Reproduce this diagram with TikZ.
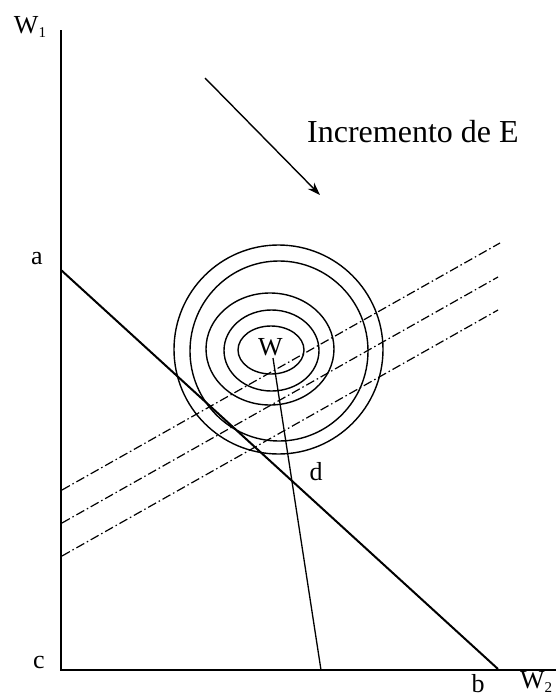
\documentclass[tikz,border=0pt]{standalone}
\usepackage{fontspec}
\setmainfont{Liberation Serif}
\usetikzlibrary{arrows.meta}
\begin{document}
\begin{tikzpicture}[x=1pt,y=-1pt,
  lbl/.style={inner sep=0pt,font=\fontsize{26}{26}\selectfont},
  axisline/.style={line width=1.6pt},
  budget/.style={line width=2pt},
  contour/.style={line width=1.4pt},
  thinline/.style={line width=1.3pt},
  iso/.style={line width=1.2pt,dash pattern=on 9pt off 3pt on 1.5pt off 3pt}]
\useasboundingbox (0,0) rectangle (555,699);
% key points
\coordinate (top) at (61,30);
\coordinate (c) at (61,670);
\coordinate (xend) at (560,670);
\coordinate (a) at (61,270);
\coordinate (b) at (498,669);
\coordinate (w) at (273,358);
\coordinate (foot) at (321,670);
\coordinate (arrS) at (205,78);
\coordinate (arrE) at (320,195);
\coordinate (l1a) at (62,490);  \coordinate (l1b) at (500,243);
\coordinate (l2a) at (62,523);  \coordinate (l2b) at (498,277);
\coordinate (l3a) at (62,556);  \coordinate (l3b) at (498,310);
% axes
\draw[axisline] (top) -- (c) -- (xend);
% iso lines
\draw[iso] (l1a) -- (l1b);
\draw[iso] (l2a) -- (l2b);
\draw[iso] (l3a) -- (l3b);
% contours
\draw[contour] (278.5,349.5) circle[radius=104.5];
\draw[contour] (279,351) ellipse[x radius=89,y radius=90];
\draw[contour] (270,349) ellipse[x radius=64,y radius=56];
\draw[contour] (271.5,350.5) ellipse[x radius=47.5,y radius=40.5];
\draw[contour] (271,350) ellipse[x radius=33,y radius=24];
% budget line
\draw[budget] (a) -- (b);
% line from W
\draw[thinline] (w) -- (foot);
% arrow
\draw[line width=1.4pt,-{Stealth[length=13pt,width=9pt]}] (arrS) -- (arrE);
% labels
\node[lbl] (W1) at (30,27) {W\raisebox{-0.15em}{\fontsize{15}{15}\selectfont 1}};
\node[lbl] (la) at (37,259) {a};
\node[lbl] (lc) at (39,662) {c};
\node[lbl] (lb) at (478,684) {b};
\node[lbl,anchor=west] (W2) at (520,682) {W\raisebox{-0.15em}{\fontsize{15}{15}\selectfont 2}};
\node[lbl] (ld) at (316,472) {d};
\node[lbl] (lW) at (270.5,347) {W};
\node[inner sep=0pt,anchor=base west,font=\fontsize{32}{32}\selectfont] (inc) at (307,142) {Incremento de E};
\end{tikzpicture}
\end{document}
